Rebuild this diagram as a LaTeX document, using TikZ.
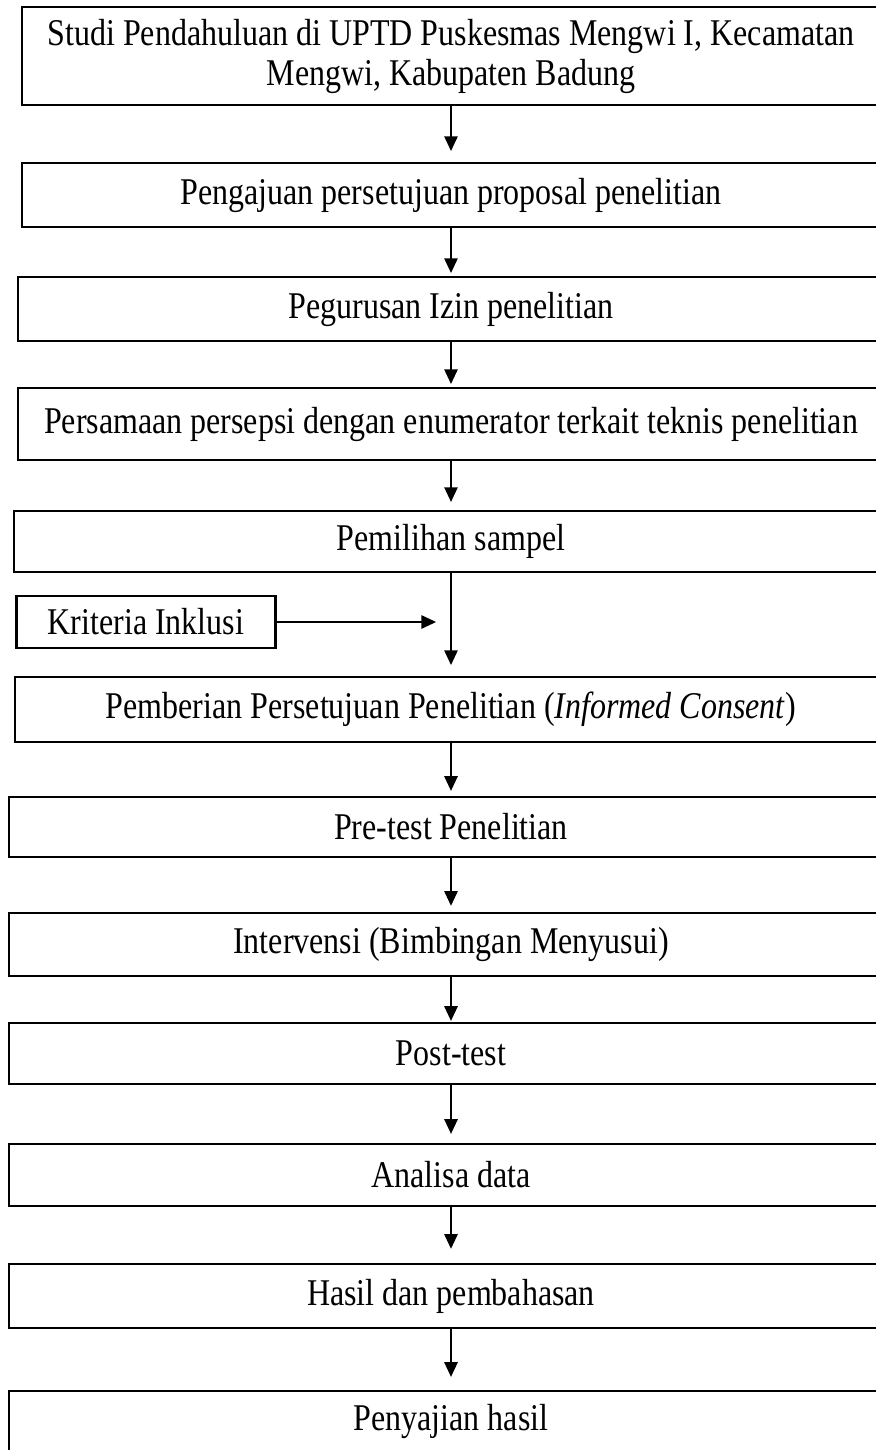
\documentclass[tikz,border=0pt]{standalone}
\usepackage{fontspec}
\setmainfont{Liberation Serif}
\usetikzlibrary{arrows.meta}
\newcommand{\tall}[1]{\scalebox{1}[1.18]{#1}}

\begin{document}
\begin{tikzpicture}[x=0.375pt, y=-0.375pt, >={Triangle[width=5pt,length=5.5pt]},
    stepbox/.style={draw, line width=0.8pt, inner sep=0pt, align=center, font=\fontsize{12}{15}\selectfont},
    flow/.style={->, line width=0.6pt}]
    \useasboundingbox (0,0) rectangle (876,1450);

    % tahapan penelitian
    \node[stepbox, minimum width=321.75pt, minimum height=36.75pt] (studi) at (451,56)
        {\tall{Studi Pendahuluan di UPTD Puskesmas Mengwi I, Kecamatan}\\ \tall{Mengwi, Kabupaten Badung}};
    \node[stepbox, minimum width=321.75pt, minimum height=24pt] (proposal) at (451,195) {\tall{Pengajuan persetujuan proposal penelitian}};
    \node[stepbox, minimum width=324.75pt, minimum height=24pt] (izin) at (451,309) {\tall{Pegurusan Izin penelitian}};
    \node[stepbox, minimum width=324.75pt, minimum height=27pt] (persepsi) at (451,424) {\tall{Persamaan persepsi dengan enumerator terkait teknis penelitian}};
    \node[stepbox, minimum width=327.75pt, minimum height=22.875pt] (sampel) at (451,541.5) {\tall{Pemilihan sampel}};
    \node[stepbox, minimum width=97.125pt, minimum height=19.5pt] (kriteria) at (146,622) {\tall{Kriteria Inklusi}};
    \node[stepbox, minimum width=327pt, minimum height=24.375pt] (consent) at (451,709.5) {\tall{Pemberian Persetujuan Penelitian (\textit{Informed Consent})}};
    \node[stepbox, minimum width=331.5pt, minimum height=22.5pt] (pretest) at (451,827) {\tall{Pre-test Penelitian}};
    \node[stepbox, minimum width=331.5pt, minimum height=23.625pt] (intervensi) at (451,944.5) {\tall{Intervensi (Bimbingan Menyusui)}};
    \node[stepbox, minimum width=331.5pt, minimum height=22.875pt] (posttest) at (451,1053.5) {\tall{Post-test}};
    \node[stepbox, minimum width=331.5pt, minimum height=23.25pt] (analisa) at (451,1175) {\tall{Analisa data}};
    \node[stepbox, minimum width=331.5pt, minimum height=24pt] (hasil) at (451,1296) {\tall{Hasil dan pembahasan}};
    \node[stepbox, minimum width=331.5pt, minimum height=22.875pt] (sajian) at (451,1421.5) {\tall{Penyajian hasil}};

    \coordinate (join) at (451,622);

    % alur
    \draw[flow, shorten >=4.1pt] (studi) -- (proposal);
    \draw[flow, shorten >=1.1pt] (proposal) -- (izin);
    \draw[flow, shorten >=1.1pt] (izin) -- (persepsi);
    \draw[flow, shorten >=3pt] (persepsi) -- (sampel);
    \draw[flow, shorten >=4.1pt] (sampel) -- (consent);
    \draw[flow, shorten >=5.6pt] (kriteria.east) -- (join);
    \draw[flow, shorten >=1.9pt] (consent) -- (pretest);
    \draw[flow, shorten >=2.3pt] (pretest) -- (intervensi);
    \draw[flow, shorten >=0.4pt] (intervensi) -- (posttest);
    \draw[flow, shorten >=3.4pt] (posttest) -- (analisa);
    \draw[flow, shorten >=5.3pt] (analisa) -- (hasil);
    \draw[flow, shorten >=4.9pt] (hasil) -- (sajian);
\end{tikzpicture}
\end{document}
